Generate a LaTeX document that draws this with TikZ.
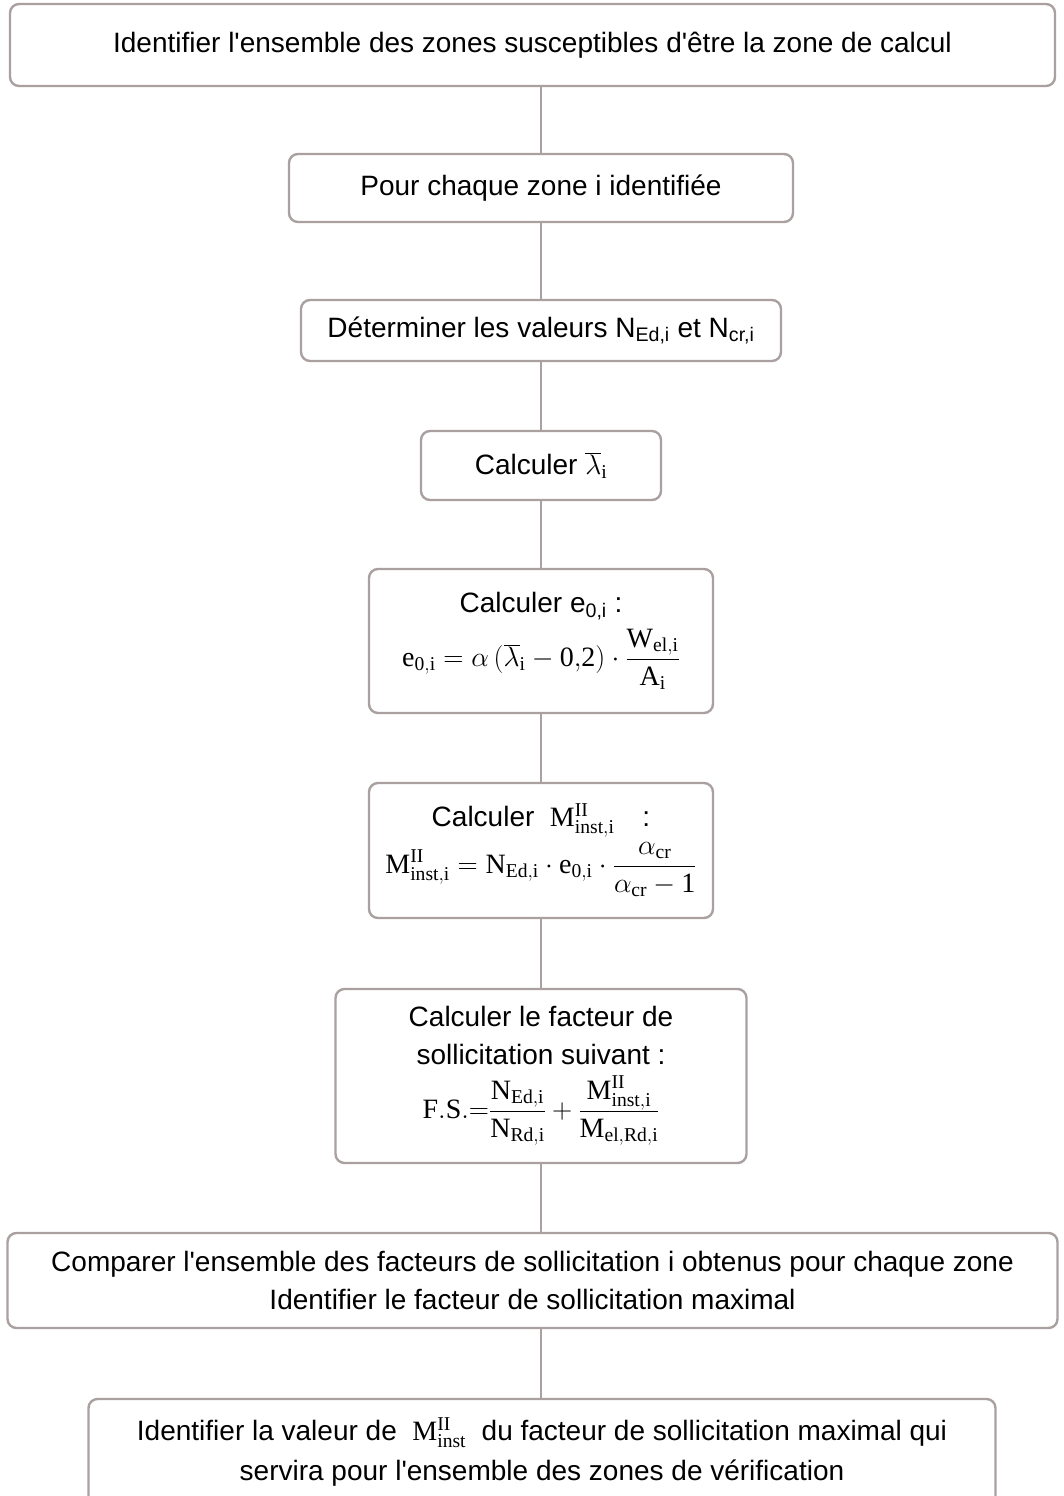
\RequirePackage{fix-cm}
\documentclass[tikz,border=0pt]{standalone}
\usepackage{fontspec}
\setmainfont{Liberation Serif}
\setsansfont{Liberation Sans}
\usepackage{tikz}
\usetikzlibrary{positioning}
\definecolor{boxline}{RGB}{170,160,160}
\newcommand{\rmv}[1]{\mathrm{#1}}
\newcommand{\q}{\textquotesingle}
\tikzset{
  x=1pt, y=1pt, % one unit is one pixel of the page
  node distance=70pt, % gap between two boxes
  stepbox/.style={draw=boxline, line width=2.4pt, rounded corners=9pt, outer sep=0pt,
    align=center, inner sep=0pt, font=\sffamily\fontsize{28}{38}\selectfont}, % every box of the chart
  link/.style={draw=boxline, line width=2.2pt}, % the lines between the boxes
}

\begin{document}
\begin{tikzpicture}
    % page frame
    \useasboundingbox (0,0) rectangle (1064,-1496);
    \clip (0,0) rectangle (1064,-1496);

    \node[stepbox, minimum width=1045pt, minimum height=82pt] (zones) at (532.5,-45)
      {Identifier l\q ensemble des zones susceptibles d\q être la zone de calcul};
    \node[stepbox, below=68pt of zones, xshift=8.5pt, minimum width=504pt, minimum height=68pt] (each)
      {Pour chaque zone i identifiée};
    \node[stepbox, below=78pt of each, minimum width=480pt, minimum height=61pt] (values)
      {Déterminer les valeurs N\textsubscript{Ed,i} et N\textsubscript{cr,i}};
    \node[stepbox, below=70pt of values, minimum width=240pt, minimum height=69pt] (slender)
      {Calculer $\overline{\lambda}_{\rmv{i}}$};
    \node[stepbox, below=69pt of slender, minimum width=344pt, minimum height=144pt] (ecc)
      {Calculer e\textsubscript{0,i} :\\[8pt]
       $\displaystyle \rmv{e}_{\rmv{0,i}}=\alpha\left(\overline{\lambda}_{\rmv{i}}-\rmv{0{,}2}\right)\cdot\frac{\rmv{W}_{\rmv{el,i}}}{\rmv{A}_{\rmv{i}}}$};
    \node[stepbox, below=70pt of ecc, minimum width=344pt, minimum height=135pt] (moment)
      {Calculer $\;\rmv{M}^{\rmv{II}}_{\rmv{inst,i}}\quad$:\\[4pt]
       $\displaystyle \rmv{M}^{\rmv{II}}_{\rmv{inst,i}}=\rmv{N}_{\rmv{Ed,i}}\cdot\rmv{e}_{\rmv{0,i}}\cdot\frac{\alpha_{\rmv{cr}}}{\alpha_{\rmv{cr}}-\rmv{1}}$};
    \node[stepbox, below=71pt of moment, minimum width=411pt, minimum height=174pt] (factor)
      {Calculer le facteur de\\ sollicitation suivant :\\[10pt]
       $\displaystyle \rmv{F.S.}{=}\frac{\rmv{N}_{\rmv{Ed,i}}}{\rmv{N}_{\rmv{Rd,i}}}+\frac{\rmv{M}^{\rmv{II}}_{\rmv{inst,i}}}{\rmv{M}_{\rmv{el,Rd,i}}}$};
    \node[stepbox, below=70pt of factor, xshift=-8.5pt, minimum width=1050pt, minimum height=95pt] (compare)
      {Comparer l\q ensemble des facteurs de sollicitation i obtenus pour chaque zone\\
       Identifier le facteur de sollicitation maximal};
    \node[stepbox, below=71pt of compare, xshift=9.5pt, minimum width=907pt, minimum height=106pt,
      font=\sffamily\fontsize{28}{40}\selectfont] (keep)
      {Identifier la valeur de $\;\rmv{M}^{\rmv{II}}_{\rmv{inst}}\;$ du facteur de sollicitation maximal qui\\
       servira pour l\q ensemble des zones de vérification};

    \draw[link] (each.north |- zones.south) -- (each.north)
      (each) -- (values)
      (values) -- (slender)
      (slender) -- (ecc)
      (ecc) -- (moment)
      (moment) -- (factor)
      (factor.south) -- (factor.south |- compare.north)
      (factor.south |- compare.south) -- (keep.north -| factor.south);

\end{tikzpicture}
\end{document}
